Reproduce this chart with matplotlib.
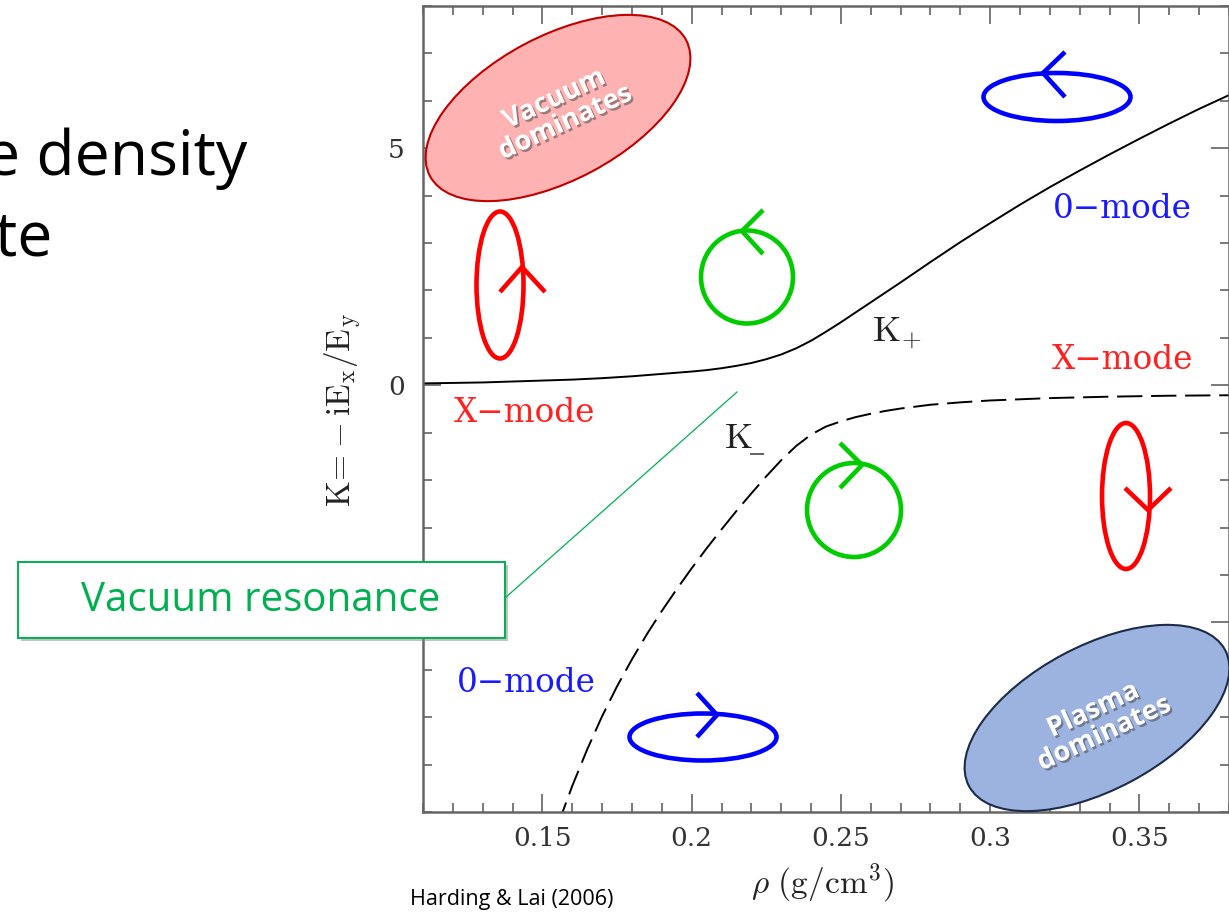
import numpy as np
import matplotlib
matplotlib.use('Agg')
import matplotlib.pyplot as plt
from matplotlib.patches import Ellipse, Rectangle
from matplotlib.ticker import MultipleLocator
import matplotlib.patheffects as pe

# K+ (solid)
rho_plus = [0.11, 0.12, 0.13, 0.14, 0.15, 0.16, 0.17, 0.18, 0.19, 0.20, 0.205,
            0.21, 0.215, 0.22, 0.225, 0.23, 0.235, 0.24, 0.245, 0.25, 0.255,
            0.26, 0.265, 0.27, 0.28, 0.29, 0.30, 0.31, 0.32, 0.33, 0.34, 0.35,
            0.36, 0.37, 0.38]
k_plus = [0.04, 0.05, 0.06, 0.08, 0.10, 0.12, 0.15, 0.19, 0.24, 0.29, 0.32,
          0.36, 0.41, 0.47, 0.55, 0.65, 0.78, 0.94, 1.13, 1.33, 1.54,
          1.75, 1.96, 2.17, 2.60, 3.02, 3.42, 3.81, 4.18, 4.53, 4.87, 5.20,
          5.52, 5.83, 6.12]

# K- (dashed)
rho_minus = [0.155, 0.16, 0.165, 0.17, 0.175, 0.18, 0.185, 0.19, 0.195, 0.20,
             0.205, 0.21, 0.215, 0.22, 0.225, 0.23, 0.235, 0.24, 0.245, 0.25,
             0.255, 0.26, 0.265, 0.27, 0.28, 0.29, 0.30, 0.32, 0.34, 0.36, 0.38]
k_minus = [-9.3, -8.45, -7.68, -6.98, -6.35, -5.78, -5.25, -4.76, -4.3, -3.86,
           -3.44, -3.04, -2.65, -2.28, -1.92, -1.58, -1.28, -1.04, -0.87, -0.76,
           -0.67, -0.60, -0.54, -0.49, -0.41, -0.36, -0.32, -0.27, -0.24, -0.22,
           -0.21]

xtick_vals = [0.15, 0.2, 0.25, 0.3, 0.35]
xtick_labels = ['0.15', '0.2', '0.25', '0.3', '0.35']
ytick_vals = [-5, 0, 5]
ytick_labels = ['', '0', '5']   # -5 label sits under the callout box

# polarization sketches (pixel coords): centre x, centre y, width, height, colour
pol_ellipses = [
    (500, 285, 47, 147, '#ff0000'),
    (747, 277, 92, 93, '#00cc00'),
    (1057, 97, 147, 48, '#0000ff'),
    (854, 510, 94, 94, '#00cc00'),
    (1126, 496, 48, 146, '#ff0000'),
    (703, 737, 147, 47, '#0000ff'),
]
pol_arrows = [
    [(500, 292), (522, 267), (545, 292)],
    [(763, 210), (742, 231), (763, 254)],
    [(1065, 52), (1043, 73), (1065, 97)],
    [(840, 443), (862, 465), (840, 488)],
    [(1125, 488), (1148, 510), (1171, 488)],
    [(697, 693), (717, 715), (697, 737)],
]
arrow_colors = ['#ff0000', '#00cc00', '#0000ff', '#00cc00', '#ff0000', '#0000ff']

mode_labels = [
    ('X\u2212mode', 524, 413, '#ff2020'),
    ('0\u2212mode', 526, 683, '#1a1aff'),
    ('0\u2212mode', 1122, 209, '#1a1aff'),
    ('X\u2212mode', 1122, 360, '#ff2020'),
]

plt.rcParams['mathtext.fontset'] = 'cm'

W, H = 1229, 913
fig = plt.figure(figsize=(W / 100, H / 100), dpi=100, facecolor='white')

ax = fig.add_axes([423 / W, (H - 812) / H, 806 / W, 806 / H])
ax.plot(rho_plus, k_plus, color='black', lw=1.4)
ax.plot(rho_minus, k_minus, color='black', lw=1.4, dashes=(13, 4.5))
ax.set_xlim(0.11, 0.38)
ax.set_ylim(-9, 8)
ax.set_xticks(xtick_vals)
ax.set_xticklabels(xtick_labels)
ax.set_yticks(ytick_vals)
ax.set_yticklabels(ytick_labels)
ax.xaxis.set_minor_locator(MultipleLocator(0.01))
ax.yaxis.set_minor_locator(MultipleLocator(1))
ax.tick_params(which='both', direction='in', top=True, right=True,
               color='#555555', width=1.1, labelcolor='#333333')
ax.tick_params(which='major', length=13, labelsize=19)
ax.tick_params(which='minor', length=6.5)
ax.tick_params(axis='x', pad=10)
ax.tick_params(axis='y', pad=13)
for lab in ax.get_xticklabels() + ax.get_yticklabels():
    lab.set_family('DejaVu Serif')
for s in ax.spines.values():
    s.set_color('#666666')
    s.set_linewidth(1.8)

# overlay in image pixel coordinates
ov = fig.add_axes([0, 0, 1, 1])
ov.set_xlim(0, W)
ov.set_ylim(H, 0)
ov.axis('off')
ov.patch.set_alpha(0)

for (cx, cy, w, h, c) in pol_ellipses:
    ov.add_patch(Ellipse((cx, cy), w, h, fill=False, edgecolor=c, lw=3.3))
for pts, c in zip(pol_arrows, arrow_colors):
    xs, ys = zip(*pts)
    ov.plot(xs, ys, color=c, lw=3.3, solid_capstyle='butt')

for txt, x, y, c in mode_labels:
    ov.text(x, y, txt, color=c, fontsize=23.5, family='DejaVu Serif',
            ha='center', va='center')

ov.text(872, 340, r'$\mathrm{K}_{+}$', fontsize=26, color='#222222',
        ha='left', va='baseline')
ov.text(724, 448, r'$\mathrm{K}$', fontsize=26, color='#222222',
        ha='left', va='baseline')
ov.plot([751, 763], [454, 454], color='#555555', lw=1.3)

ov.text(343, 410, r'$\mathrm{K\!=\!-iE_x/E_y}$', fontsize=24, color='#222222',
        rotation=90, ha='center', va='center')
ov.text(822, 883, r'$\rho\ (\mathrm{g/cm^3})$', fontsize=24, color='#222222',
        ha='center', va='center')

# vacuum / plasma dominated regions
shadow = [pe.withSimplePatchShadow(offset=(1.5, -1.5), shadow_rgbFace='#404040', alpha=0.5)]
ov.add_patch(Ellipse((558, 108), 290, 144, angle=-28, facecolor='#ffb2b2',
                     edgecolor='#c00000', lw=1.5))
ov.text(560, 111, 'Vacuum\ndominates', rotation=25, rotation_mode='anchor',
        ha='center', va='center', color='white', fontsize=19.5, weight='bold',
        family='Open Sans', linespacing=1.0, path_effects=shadow)
ov.add_patch(Ellipse((1097, 718), 290, 144, angle=-28, facecolor='#9db3df',
                     edgecolor='#1c2b4a', lw=1.5))
ov.text(1099, 722, 'Plasma\ndominates', rotation=25, rotation_mode='anchor',
        ha='center', va='center', color='white', fontsize=19.5, weight='bold',
        family='Open Sans', linespacing=1.0, path_effects=shadow)

# vacuum resonance callout
ov.plot([505, 737], [598, 392], color='#00b050', lw=0.9)
ov.add_patch(Rectangle((18, 562), 487, 76, facecolor='white', edgecolor='#00b050',
                       lw=1.4, path_effects=[pe.withSimplePatchShadow(
                           offset=(2.5, -2.5), shadow_rgbFace='#888888', alpha=0.5)]))
ov.text(261, 601, 'Vacuum resonance', color='#00b050', fontsize=29,
        family='Open Sans', ha='center', va='center')

# slide text fragments
ov.text(247, 175, 'e density', fontsize=45, family='Open Sans', color='black',
        ha='right', va='baseline')
ov.text(52, 255, 'te', fontsize=45, family='Open Sans', color='black',
        ha='right', va='baseline')
ov.text(512, 900, 'Harding & Lai (2006)', fontsize=15.5, family='Open Sans',
        color='black', ha='center', va='center')

fig.savefig('out.png', dpi=100, facecolor='white')
